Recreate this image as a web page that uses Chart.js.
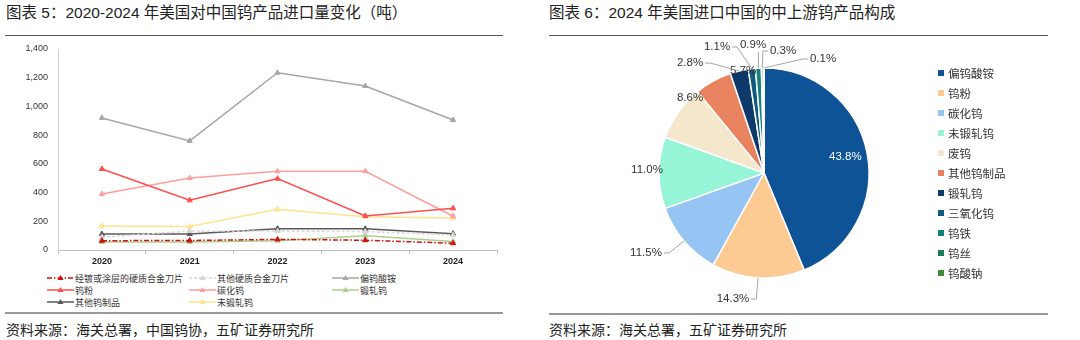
<!DOCTYPE html>
<html>
<head>
<meta charset="utf-8">
<script src="https://cdn.jsdelivr.net/npm/chart.js@4.4.1/dist/chart.umd.min.js"></script>
<style>
  body { margin: 0; width: 1080px; height: 340px; background: #fff; position: relative; overflow: hidden;
         font-family: "Liberation Sans", "Noto Sans CJK SC", sans-serif; color: #333; }
  .title { position: absolute; top: 3px; font-size: 15.5px; line-height: 20px; color: #222; white-space: nowrap; }
  .rule-top { position: absolute; top: 35px; height: 0; border-top: 1px solid #555; }
  .rule-bot { position: absolute; height: 0; border-top: 2px solid #999; }
  .source { position: absolute; font-size: 14px; line-height: 18px; color: #222; white-space: nowrap; }
  #lineLegend { position: absolute; left: 47px; top: 272px; display: grid;
                grid-template-columns: 142px 143px 150px; grid-auto-rows: 12px; font-size: 9px; color: #333; }
  #lineLegend div { display: flex; align-items: center; white-space: nowrap; }
  #lineLegend svg { margin-right: 1px; }
  #pieLegend { position: absolute; left: 938px; top: 63px; font-size: 11.5px; color: #333; }
  #pieLegend div { height: 20px; display: flex; align-items: center; white-space: nowrap; }
  #pieLegend span.box { width: 6px; height: 6px; margin-right: 4px; display: inline-block; }
</style>
</head>
<body>
<div class="title" style="left:6px">图表 5：2020-2024 年美国对中国钨产品进口量变化（吨）</div>
<div class="rule-top" style="left:5px;width:498px"></div>
<div class="title" style="left:549px">图表 6：2024 年美国进口中国的中上游钨产品构成</div>
<div class="rule-top" style="left:549px;width:499px"></div>

<canvas id="lineChart" width="520" height="232" style="position:absolute;left:0;top:40px"></canvas>
<div id="lineLegend"></div>

<canvas id="pieChart" width="380" height="266" style="position:absolute;left:574px;top:40px"></canvas>
<div id="pieLegend"></div>

<div class="rule-bot" style="left:5px;width:498px;top:312px"></div>
<div class="source" style="left:6px;top:321px">资料来源：海关总署，中国钨协，五矿证券研究所</div>
<div class="rule-bot" style="left:549px;width:499px;top:313px"></div>
<div class="source" style="left:549px;top:321px">资料来源：海关总署，五矿证券研究所</div>

<script>
// ---- left chart data (吨) ----
const years = ['2020', '2021', '2022', '2023', '2024'];
const lineNames = ['经镀或涂层的硬质合金刀片', '其他硬质合金刀片', '偏钨酸铵', '钨粉', '碳化钨', '锻轧钨', '其他钨制品', '未锻轧钨'];
const coatedInserts = [65, 66, 74, 68, 47];
const otherInserts = [90, 132, 132, 128, 105];
const apt = [920, 760, 1235, 1142, 905];
const tungstenPowder = [564, 346, 497, 237, 290];
const tungstenCarbide = [390, 501, 548, 548, 235];
const wroughtTungsten = [56, 56, 65, 100, 60];
const otherProducts = [111, 111, 148, 148, 114];
const unwroughtTungsten = [167, 163, 283, 232, 223];
const yTicks = [0, 200, 400, 600, 800, 1000, 1200, 1400];

// ---- right chart data (%) ----
const pieCategories = ['偏钨酸铵', '钨粉', '碳化钨', '未锻轧钨', '废钨', '其他钨制品', '锻轧钨', '三氧化钨', '钨铁', '钨丝', '钨酸钠'];
const pieShares = [43.8, 14.3, 11.5, 11.0, 8.6, 5.7, 2.8, 1.1, 0.9, 0.3, 0.1];

// styles
const lineValues = [coatedInserts, otherInserts, apt, tungstenPowder, tungstenCarbide, wroughtTungsten, otherProducts, unwroughtTungsten];
const lineColors = ['#d01010', '#d6d6d6', '#a6a6a6', '#ff4b4b', '#ff9d9d', '#a8d18d', '#595959', '#ffe38f'];
const lineDashes = [[5, 2, 1.5, 2], [3, 2], [], [], [], [], [], []];
const pieColors = ['#0d5396', '#fdca93', '#96c4f3', '#96f4d7', '#f5e7cb', '#e8825f', '#0d3a6b', '#0f5b7d', '#15807b', '#1a7a5c', '#3d8b37'];
// label offsets from the pie centre (null = inside the slice), third value: draw leader line
const pieLabelPlace = [null, [-31, 126, 1], [-118, 80, 1], [-117, -3, 0], [-74, -75, 0], [-21, -102, 0],
                       [-74, -110, 1], [-47, -126, 1], [-11, -128, 1], [19, -122, 1], [59, -114, 1]];

const fontStack = '"Liberation Sans", "Noto Sans CJK SC", sans-serif';
Chart.defaults.font.family = fontStack;
Chart.defaults.color = '#333';

new Chart(document.getElementById('lineChart'), {
  type: 'line',
  data: {
    labels: years,
    datasets: lineNames.map((name, i) => ({
      label: name,
      data: lineValues[i],
      borderColor: lineColors[i],
      backgroundColor: lineColors[i],
      borderWidth: 1.5,
      borderDash: lineDashes[i],
      pointStyle: 'triangle',
      pointRadius: 3,
      pointBorderWidth: 1,
      tension: 0,
      fill: false
    }))
  },
  options: {
    responsive: false,
    animation: false,
    devicePixelRatio: 1,
    layout: { padding: { top: 9, right: 23, left: 0, bottom: 0 } },
    plugins: { legend: { display: false }, tooltip: { enabled: false } },
    scales: {
      x: {
        offset: true,
        grid: { display: true, offset: true, drawOnChartArea: false, tickLength: 4, color: '#bfbfbf' },
        border: { display: true, color: '#bfbfbf' },
        ticks: { padding: 2, font: { size: 9, weight: 'bold' }, color: '#222' },
        afterFit: s => { s.height = 22; }
      },
      y: {
        min: 0, max: 1400,
        afterBuildTicks: s => { s.ticks = yTicks.map(v => ({ value: v })); },
        grid: { display: false, drawTicks: true, tickLength: 8 },
        border: { display: true, color: '#d0d0d0' },
        ticks: { padding: 2, font: { size: 9 }, color: '#333', callback: v => v.toLocaleString('en-US') },
        afterFit: s => { s.width = 58; }
      }
    }
  }
});

// HTML legend for the line chart
const lineLegend = document.getElementById('lineLegend');
lineNames.forEach((name, i) => {
  const d = document.createElement('div');
  const dash = lineDashes[i].length ? `stroke-dasharray="${lineDashes[i].join(' ')}"` : '';
  d.innerHTML = `<svg width="27" height="8"><line x1="0" y1="4" x2="27" y2="4" stroke="${lineColors[i]}" stroke-width="1.5" ${dash}/>` +
    `<polygon points="13.5,1 16.5,6 10.5,6" fill="${lineColors[i]}"/></svg><span>${name}</span>`;
  lineLegend.appendChild(d);
});

const pieLabelPlugin = {
  id: 'pieLabels',
  afterDatasetsDraw(chart) {
    const ctx = chart.ctx;
    const meta = chart.getDatasetMeta(0);
    ctx.save();
    ctx.font = '11.5px ' + fontStack;
    ctx.textBaseline = 'middle';
    ctx.textAlign = 'center';
    ctx.strokeStyle = '#a6a6a6';
    ctx.lineWidth = 1;
    meta.data.forEach((arc, i) => {
      const p = arc.getProps(['x', 'y', 'startAngle', 'endAngle', 'outerRadius'], true);
      const mid = (p.startAngle + p.endAngle) / 2;
      const text = pieShares[i].toFixed(1) + '%';
      const place = pieLabelPlace[i];
      if (!place) {
        ctx.fillStyle = '#fff';
        ctx.fillText(text, p.x + Math.cos(mid) * p.outerRadius * 0.79, p.y + Math.sin(mid) * p.outerRadius * 0.79);
        return;
      }
      const lx = p.x + place[0], ly = p.y + place[1];
      const w = ctx.measureText(text).width;
      if (place[2]) {
        const ex = p.x + Math.cos(mid) * p.outerRadius, ey = p.y + Math.sin(mid) * p.outerRadius;
        const left = lx - w / 2, right = lx + w / 2;
        ctx.beginPath();
        if (ex > right + 2) {
          ctx.moveTo(right + 2, ly); ctx.lineTo(right + 7, ly); ctx.lineTo(ex, ey);
        } else if (ex < left - 2) {
          ctx.moveTo(left - 2, ly); ctx.lineTo(left - 7, ly); ctx.lineTo(ex, ey);
        } else {
          ctx.moveTo(ex, ly + 7); ctx.lineTo(ex, ey);
        }
        ctx.stroke();
      }
      ctx.fillStyle = '#333';
      ctx.fillText(text, lx, ly);
    });
    ctx.restore();
  }
};

new Chart(document.getElementById('pieChart'), {
  type: 'pie',
  data: {
    labels: pieCategories,
    datasets: [{ data: pieShares, backgroundColor: pieColors, borderColor: '#fff', borderWidth: 1.5, radius: 105 }]
  },
  options: {
    responsive: false,
    animation: false,
    devicePixelRatio: 1,
    layout: { padding: 0 },
    plugins: { legend: { display: false }, tooltip: { enabled: false } }
  },
  plugins: [pieLabelPlugin]
});

const pieLegend = document.getElementById('pieLegend');
pieCategories.forEach((name, i) => {
  const d = document.createElement('div');
  d.innerHTML = `<span class="box" style="background:${pieColors[i]}"></span><span>${name}</span>`;
  pieLegend.appendChild(d);
});
</script>
</body>
</html>
